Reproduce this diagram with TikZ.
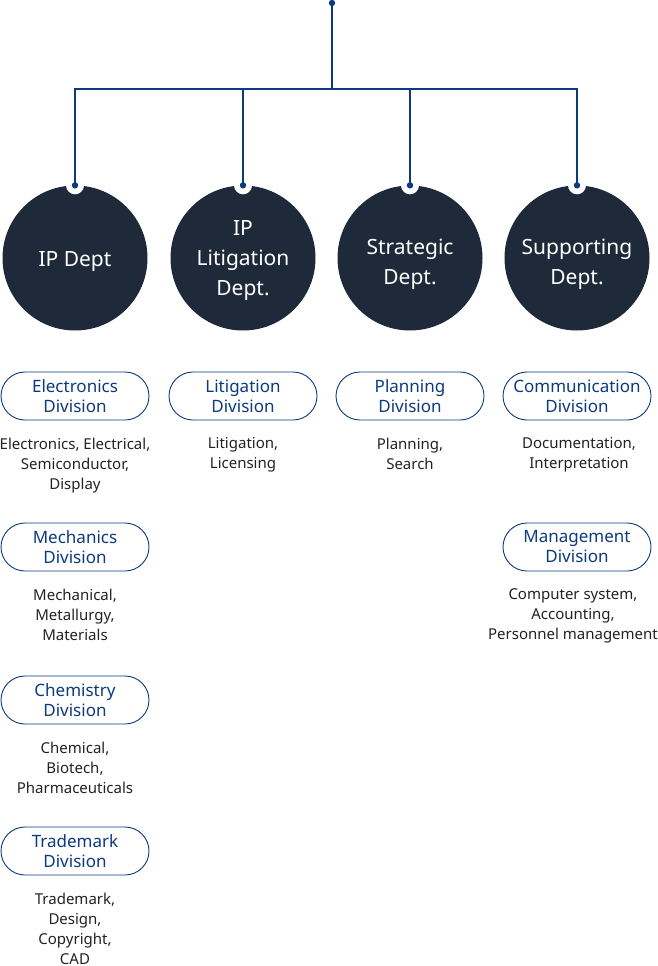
\documentclass[tikz,border=0pt]{standalone}
\usepackage{fontspec}
\setmainfont{Noto Sans}
\usetikzlibrary{positioning, shapes.misc}
\definecolor{cnavy}{HTML}{1E2A3A}
\definecolor{cline}{HTML}{0B3A7E}
\definecolor{ctext}{HTML}{222222}
\newcommand{\lift}[1]{\rule{0pt}{#1}}
\tikzset{
  every picture/.style={x=1pt, y=-1pt},
  dept/.style={circle, fill=cnavy, text=white, minimum size=145pt, inner sep=0pt, align=center, font=\fontsize{21}{30}\selectfont},
  division/.style={rounded rectangle, draw=cline, line width=0.9pt, text=cline, minimum width=148pt, minimum height=48pt, inner sep=0pt, align=center, font=\fontsize{17}{20}\selectfont},
  duty/.style={below=17pt of #1, inner sep=0pt, align=center, text=ctext, font=\fontsize{15}{20}\selectfont},
  link/.style={draw=cline, line width=1.6pt},
}
\begin{document}
\begin{tikzpicture}
\useasboundingbox (0,0) rectangle (657,966);
  % departments
  \node[dept] (ipd) at (75,258) {\lift{22pt}IP Dept};
  \node[dept] (lit) at (243,258) {\lift{20pt}IP\\Litigation\\Dept.};
  \node[dept] (str) at (410,258) {\lift{28pt}Strategic\\Dept.};
  \node[dept] (sup) at (577,258) {\lift{28pt}Supporting\\Dept.};
  % tree
  \coordinate (root) at (332,3);
  \coordinate (bus) at (332,89);
  \draw[link] (root) -- (bus);
  \foreach \d in {ipd, lit, str, sup} {
    \fill[white] (\d.north) circle (9);
    \draw[link] (bus) -| (\d.north);
    \fill[cline] (\d.north) circle (3.2);
  }
  \fill[cline] (root) circle (3.2);
  % divisions
  \node[division] (elec) at (75,396) {Electronics\\Division};
  \node[duty=elec] (elecd) {Electronics, Electrical,\\Semiconductor,\\Display};
  \node[division] (mech) at (75,547) {Mechanics\\Division};
  \node[duty=mech] (mechd) {Mechanical,\\Metallurgy,\\Materials};
  \node[division] (chem) at (75,700) {Chemistry\\Division};
  \node[duty=chem] (chemd) {Chemical,\\Biotech,\\Pharmaceuticals};
  \node[division] (tm) at (75,851) {Trademark\\Division};
  \node[duty=tm] (tmd) {Trademark,\\Design,\\Copyright,\\CAD};
  \node[division] (litd) at (243,396) {Litigation\\Division};
  \node[duty=litd] (litdd) {Litigation,\\Licensing};
  \node[division] (plan) at (410,396) {Planning\\Division};
  \node[duty=plan] (pland) {Planning,\\Search};
  \node[division] (comm) at (577,396) {Communication\\Division};
  \node[duty=comm, xshift=2pt] (commd) {Documentation,\\Interpretation};
  \node[division] (mgmt) at (577,547) {Management\\Division};
  \node[duty=mgmt, xshift=-4pt] (mgmtd) {Computer system,\\Accounting,\\Personnel management};
\end{tikzpicture}
\end{document}
